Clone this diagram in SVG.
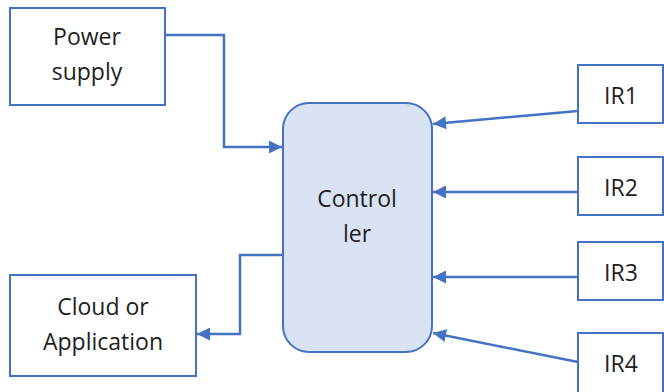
<svg xmlns="http://www.w3.org/2000/svg" width="664" height="392" viewBox="0 0 664 392">
<style>
.box{fill:#ffffff;stroke:#4472c4;stroke-width:2}
.ctl{fill:#dae3f3;stroke:#4472c4;stroke-width:2}
.lbl{font-family:"Open Sans","Noto Sans",sans-serif;font-size:23px;fill:#1e1e1e;text-anchor:middle}
.con{fill:none;stroke:#4472c4;stroke-width:2.5;marker-end:url(#ah)}
</style>
<defs>
<marker id="ah" viewBox="0 0 10 10" refX="10" refY="5" markerWidth="5.6" markerHeight="5.2" markerUnits="strokeWidth" orient="auto">
<path d="M0,0 L10,5 L0,10 z" fill="#4472c4"/>
</marker>
</defs>
<rect width="664" height="392" fill="#ffffff"/>
<g id="connectors">
<path class="con" d="M165,35 H224 V147 H282"/>
<path class="con" d="M283,255 H240 V334 H197"/>
<path class="con" d="M578,111 L433,124"/>
<path class="con" d="M578,192 H433"/>
<path class="con" d="M578,277 H433"/>
<path class="con" d="M578,362 L433,333"/>
</g>
<g id="power">
<rect class="box" x="10" y="8" width="155" height="97"/>
<text class="lbl" x="87" y="45">Power</text>
<text class="lbl" x="87" y="80">supply</text>
</g>
<g id="controller">
<rect class="ctl" x="283" y="103" width="149" height="249" rx="26" ry="26"/>
<text class="lbl" x="357" y="207">Control</text>
<text class="lbl" x="357" y="242">ler</text>
</g>
<g id="cloud">
<rect class="box" x="10" y="275" width="186" height="101"/>
<text class="lbl" x="103" y="315">Cloud or</text>
<text class="lbl" x="103" y="350">Application</text>
</g>
<g id="ir1">
<rect class="box" x="578" y="65" width="85" height="58"/>
<text class="lbl" x="621" y="104">IR1</text>
</g>
<g id="ir2">
<rect class="box" x="578" y="157" width="85" height="58"/>
<text class="lbl" x="621" y="196">IR2</text>
</g>
<g id="ir3">
<rect class="box" x="578" y="242" width="85" height="58"/>
<text class="lbl" x="621" y="281">IR3</text>
</g>
<g id="ir4">
<rect class="box" x="578" y="333" width="85" height="70"/>
<text class="lbl" x="621" y="372">IR4</text>
</g>
</svg>
